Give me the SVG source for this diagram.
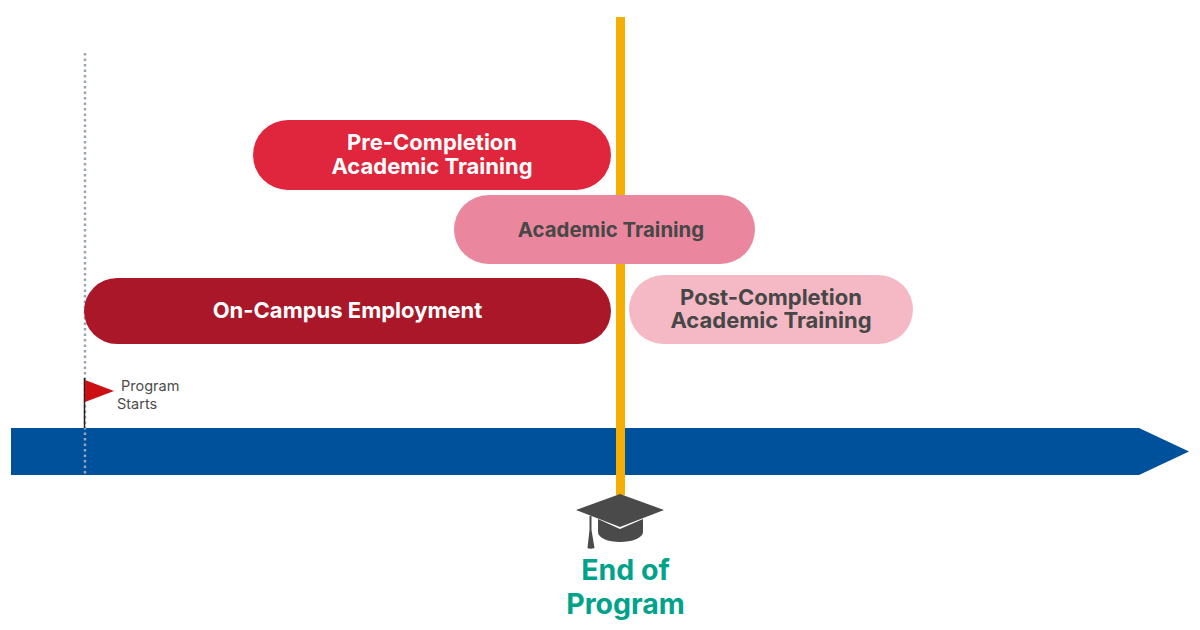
<svg xmlns="http://www.w3.org/2000/svg" width="1200" height="630" viewBox="0 0 1200 630">
<style>
.t{font-family:"Inter","Liberation Sans",sans-serif;font-weight:700;text-anchor:middle}
.w{fill:#fff;font-size:22px}
.d{fill:#474747;font-size:22px}
.g{fill:#00a38a;font-family:"Inter","Liberation Sans",sans-serif;font-weight:700;font-size:28.500px;text-anchor:middle}
.s{fill:#4d4d4d;font-family:"Inter","Liberation Sans",sans-serif;font-size:14.500px}
</style>
<rect width="1200" height="630" fill="#fff"/>
<g id="connectors">
<path id="timeline" d="M11 428H1139L1189 451.500L1139 475H11Z" fill="#00519b"/>
<line x1="85" y1="53" x2="85" y2="476" stroke="#9aa5b5" stroke-width="2.500" stroke-dasharray="2.500 3"/>
<rect id="end-line" x="616" y="17" width="9" height="478" fill="#f4ae04"/>
</g>
<g id="pre-completion">
<rect x="253" y="120" width="358" height="70" rx="35" fill="#e0263c"/>
<text class="t w" x="432" y="150">Pre-Completion</text>
<text class="t w" x="432" y="174">Academic Training</text>
</g>
<g id="academic-training">
<rect x="454" y="195" width="301" height="69" rx="34.500" fill="#ea879f"/>
<text class="t d" x="611" y="236.500" style="font-size:20.400px">Academic Training</text>
</g>
<g id="on-campus">
<rect x="84" y="278" width="527" height="66" rx="33" fill="#a91728"/>
<text class="t w" x="347.500" y="318">On-Campus Employment</text>
</g>
<g id="post-completion">
<rect x="629" y="275" width="284" height="69" rx="34.500" fill="#f5b8c5"/>
<text class="t d" x="771" y="305">Post-Completion</text>
<text class="t d" x="771" y="328">Academic Training</text>
</g>
<g id="program-starts">
<line x1="84.500" y1="378" x2="84.500" y2="428" stroke="#222" stroke-width="1.500"/>
<path d="M85 380L114 391L85 402Z" fill="#cc0f14"/>
<text class="s" x="121" y="391">Program</text>
<text class="s" x="117" y="408.500">Starts</text>
</g>
<g id="end-of-program">
<path d="M620 494L664 510L620 527L576 510Z" fill="#4a4a4a"/>
<path d="M598 519L620 529L643 519V532C643 538 632 542 620 542C608 542 598 538 598 532Z" fill="#4a4a4a"/>
<path d="M589.500 516H591.500V530L594.500 548C592 549 589 549 587.500 548L589.500 530Z" fill="#4a4a4a"/>
<text class="g" x="625.500" y="580">End of</text>
<text class="g" x="625.500" y="614">Program</text>
</g>
</svg>
